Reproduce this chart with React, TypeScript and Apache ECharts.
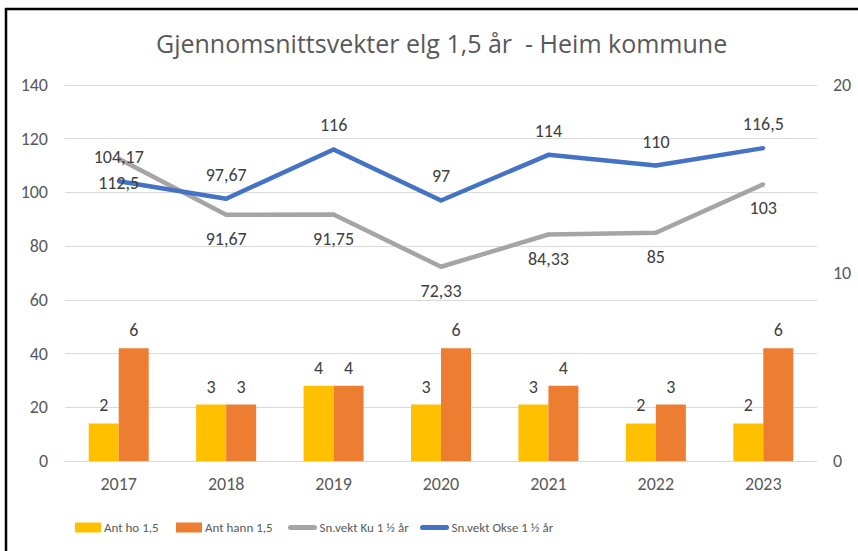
import React, { useEffect, useRef } from "react";
import * as echarts from "echarts";

const categories = ["2017", "2018", "2019", "2020", "2021", "2022", "2023"];
const antHo = [2, 3, 4, 3, 3, 2, 2];
const antHann = [6, 3, 4, 6, 4, 3, 6];
const snKu = [112.5, 91.67, 91.75, 72.33, 84.33, 85, 103];
const snOkse = [104.17, 97.67, 116, 97, 114, 110, 116.5];
const seriesNames = ["Ant ho 1,5", "Ant hann 1,5", "Sn.vekt Ku 1 ½ år", "Sn.vekt Okse 1 ½ år"];

const FONT = "Carlito, 'Liberation Sans', sans-serif";
const TITLE_FONT = "'Open Sans', sans-serif";

const fmt = (v: number) => String(v).replace(".", ",");

export default function App() {
  const ref = useRef<HTMLDivElement>(null);
  useEffect(() => {
    if (!ref.current) return;
    const chart = echarts.init(ref.current, undefined, { renderer: "svg" });
    const lineLabel = (pos: string) => ({
      show: true,
      position: pos,
      distance: 13,
      color: "#404040",
      fontSize: 18,
      fontFamily: FONT,
      formatter: (p: any) => fmt(p.value),
    });
    const legendLefts = [75, 176, 288, 420];
    const legends = seriesNames.map((name, i) => ({
      left: legendLefts[i],
      top: 521,
      padding: 0,
      itemWidth: i < 2 ? 26 : 24,
      itemHeight: 10,
      textStyle: { fontFamily: FONT, fontSize: 13, color: "#595959", padding: [0, 0, 0, i < 2 ? -2 : 0] },
      data: [
        i < 2
          ? { name, icon: "rect" }
          : { name, itemStyle: { opacity: 0 }, lineStyle: { width: 5, cap: "round" } },
      ],
    }));
    chart.setOption({
      animation: false,
      backgroundColor: "#ffffff",
      textStyle: { fontFamily: FONT },
      title: {
        text: "Gjennomsnittsvekter elg 1,5 år  - Heim kommune",
        left: 151,
        top: 25,
        textStyle: { fontFamily: TITLE_FONT, fontSize: 25, fontWeight: "normal", color: "#595959" },
      },
      graphic: [
        { type: "line", shape: { x1: 5, y1: 9, x2: 858, y2: 9 }, style: { stroke: "#000", lineWidth: 2.5 } },
        { type: "line", shape: { x1: 6, y1: 8, x2: 6, y2: 551 }, style: { stroke: "#000", lineWidth: 2.5 } },
      ],
      grid: { left: 65, right: 41, top: 85, bottom: 90 },
      legend: legends,
      xAxis: {
        type: "category",
        data: categories,
        axisLine: { lineStyle: { color: "#D9D9D9", width: 1 } },
        axisTick: { show: false },
        axisLabel: { color: "#595959", fontSize: 18, margin: 14, fontFamily: FONT },
      },
      yAxis: [
        {
          type: "value",
          min: 0,
          max: 140,
          interval: 20,
          axisLine: { show: false },
          axisTick: { show: false },
          splitLine: { lineStyle: { color: "#D9D9D9", width: 1 } },
          axisLabel: { color: "#595959", fontSize: 18, margin: 17, fontFamily: FONT },
        },
        {
          type: "value",
          min: 0,
          max: 20,
          interval: 10,
          axisLine: { show: false },
          axisTick: { show: false },
          splitLine: { show: false },
          axisLabel: { color: "#595959", fontSize: 18, margin: 16, fontFamily: FONT },
        },
      ],
      series: [
        {
          name: seriesNames[0],
          type: "bar",
          yAxisIndex: 1,
          data: antHo,
          barWidth: 30,
          barGap: "0%",
          itemStyle: { color: "#FFC000" },
          label: { show: true, position: "top", distance: 9, color: "#404040", fontSize: 18, fontFamily: FONT },
        },
        {
          name: seriesNames[1],
          type: "bar",
          yAxisIndex: 1,
          data: antHann,
          barWidth: 30,
          barGap: "0%",
          itemStyle: { color: "#ED7D31" },
          label: { show: true, position: "top", distance: 9, color: "#404040", fontSize: 18, fontFamily: FONT },
        },
        {
          name: seriesNames[2],
          type: "line",
          yAxisIndex: 0,
          data: snKu,
          symbol: "circle",
          symbolSize: 4,
          showSymbol: true,
          lineStyle: { color: "#A5A5A5", width: 4.5 },
          itemStyle: { color: "#A5A5A5" },
          label: lineLabel("bottom"),
        },
        {
          name: seriesNames[3],
          type: "line",
          yAxisIndex: 0,
          data: snOkse,
          symbol: "circle",
          symbolSize: 4,
          showSymbol: true,
          lineStyle: { color: "#4472C4", width: 4.5 },
          itemStyle: { color: "#4472C4" },
          label: lineLabel("top"),
        },
      ],
    });
    return () => chart.dispose();
  }, []);
  return (
    <div
      ref={ref}
      style={{ position: "absolute", left: 0, top: 0, width: 858, height: 551 }}
    />
  );
}
